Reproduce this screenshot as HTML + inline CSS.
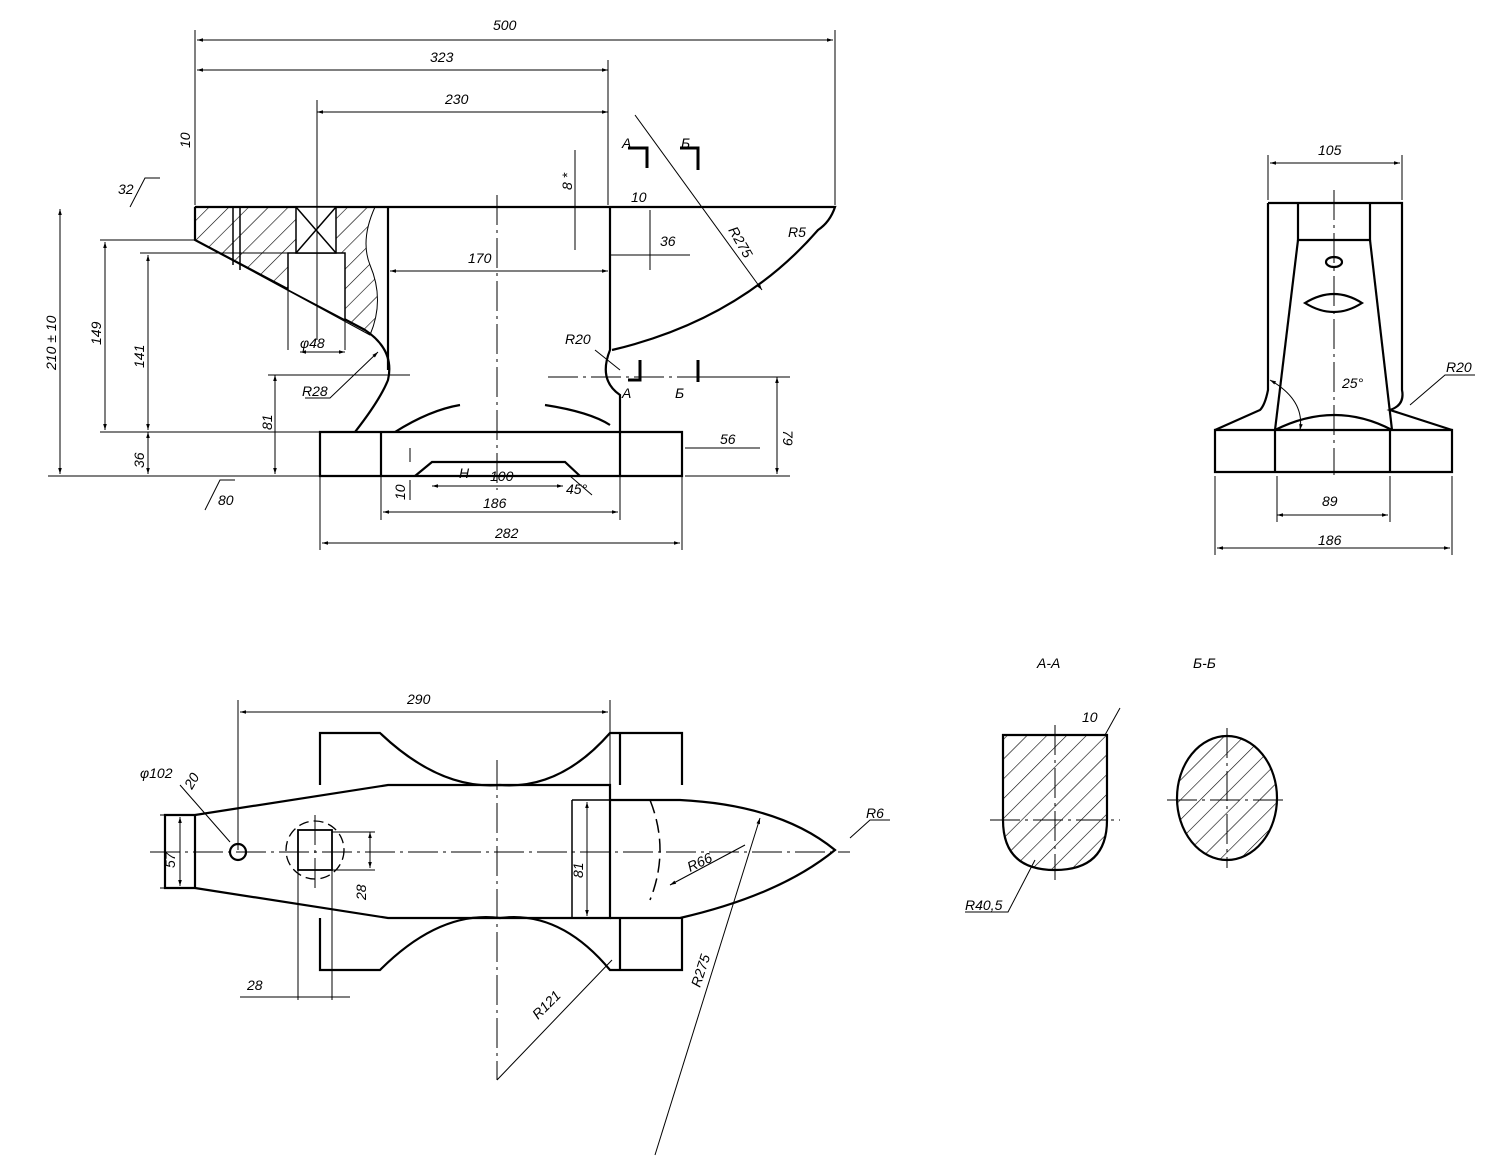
<!DOCTYPE html>
<html><head><meta charset="utf-8"><style>
html,body{margin:0;padding:0;background:#fff}
svg{display:block}
text{font-family:"Liberation Sans",sans-serif;font-style:italic;font-size:14px;fill:#000}
</style></head><body>
<svg width="1500" height="1163" viewBox="0 0 1500 1163" xmlns="http://www.w3.org/2000/svg">
<defs>
<pattern id="h" width="14" height="14" patternUnits="userSpaceOnUse" patternTransform="rotate(45)">
<line x1="0" y1="0" x2="0" y2="14" stroke="#000" stroke-width="1.2"/></pattern>
<marker id="a" viewBox="0 0 10 10" refX="10" refY="5" markerWidth="10" markerHeight="6" orient="auto-start-reverse"><path d="M0,2 L10,5 L0,8 z" fill="#000"/></marker>
</defs>
<g fill="none" stroke="#000" stroke-width="2.2">
<path d="M195,207 L835,207 Q830,222 818,230 Q740,320 612,350"/>
<path d="M195,207 L195,240 L365,330 Q395,350 388,380 Q380,400 355,432"/>
<line x1="388" y1="207" x2="388" y2="370"/>
<path d="M610,207 L610,350 Q598,380 620,395 L620,432"/>
<path d="M320,432 L682,432 L682,476 L320,476 Z"/>
<line x1="381" y1="432" x2="381" y2="476"/><line x1="620" y1="432" x2="620" y2="476"/>
<path d="M415,476 L432,462 L565,462 L580,476"/>
<path d="M395,432 Q430,410 460,405"/><path d="M545,405 Q590,412 610,425"/>
<path d="M195,207 L375,207 Q360,240 370,265 Q385,300 370,335 L195,240 Z" fill="url(#h)" stroke-width="1"/>
<path d="M288,253 L345,253 L345,320 L288,290 Z" fill="#fff" stroke-width="1.5"/>
<line x1="233" y1="207" x2="233" y2="265" stroke-width="1.5"/><line x1="240" y1="207" x2="240" y2="270" stroke-width="1.5"/>
<rect x="296" y="207" width="40" height="46" fill="#fff" stroke-width="1.5"/>
<line x1="296" y1="207" x2="336" y2="253" stroke-width="1.5"/><line x1="336" y1="207" x2="296" y2="253" stroke-width="1.5"/>
<path d="M1215,430 L1452,430 L1452,472 L1215,472 Z"/>
<path d="M1268,203 L1402,203 L1402,390 Q1405,405 1390,410 L1452,430"/>
<path d="M1268,203 L1268,390 Q1265,405 1260,410 L1215,430"/>
<path d="M1298,203 L1298,240 L1370,240 L1370,203"/>
<line x1="1298" y1="240" x2="1275" y2="430"/><line x1="1370" y1="240" x2="1392" y2="430"/>
<line x1="1275" y1="430" x2="1275" y2="472"/><line x1="1390" y1="430" x2="1390" y2="472"/>
<path d="M1275,430 Q1335,400 1392,430"/>
<ellipse cx="1334" cy="262" rx="8" ry="5"/>
<path d="M1305,303 Q1334,285 1362,303 Q1334,321 1305,303 Z"/>
<path d="M165,815 L195,815 L388,785 L610,785 L610,918 L388,918 L195,888 L165,888 Z"/>
<line x1="195" y1="815" x2="195" y2="888"/>
<path d="M320,785 L320,733 L380,733 Q440,790 500,785 Q560,790 610,733 L682,733 L682,785"/>
<path d="M320,918 L320,970 L380,970 Q440,910 500,918 Q560,910 610,970 L620,970 L682,970 L682,918"/>
<path d="M620,733 L620,785 M620,918 L620,970"/>
<path d="M610,800 L680,800 Q780,805 835,850 Q780,895 680,918 L610,918"/>
<path d="M650,800 Q670,850 650,900" stroke-dasharray="14,6" stroke-width="1.5"/>
<path d="M572,800 L610,800 M572,918 L610,918 M572,800 L572,918" stroke-width="1.5"/>
<circle cx="238" cy="852" r="8"/>
<rect x="298" y="830" width="34" height="40" stroke-width="1.8"/>
<circle cx="315" cy="850" r="29" stroke-dasharray="10,5" stroke-width="1.3"/>
<path d="M1003,735 L1107,735 L1107,820 Q1107,870 1055,870 Q1003,870 1003,820 Z" fill="url(#h)"/>
<ellipse cx="1227" cy="798" rx="50" ry="62" fill="url(#h)"/>
</g>
<g fill="none" stroke="#000" stroke-width="1">
<g stroke-dasharray="30,5,3,5">
<line x1="497" y1="195" x2="497" y2="490"/><line x1="548" y1="377" x2="790" y2="377"/>
<line x1="1334" y1="190" x2="1334" y2="475"/>
<line x1="150" y1="852" x2="850" y2="852"/><line x1="497" y1="760" x2="497" y2="1080"/>
<line x1="1055" y1="725" x2="1055" y2="880"/><line x1="990" y1="820" x2="1120" y2="820"/>
<line x1="1227" y1="728" x2="1227" y2="868"/><line x1="1167" y1="800" x2="1287" y2="800"/>
<line x1="315" y1="815" x2="315" y2="890"/>
</g>
<g marker-start="url(#a)" marker-end="url(#a)">
<line x1="197" y1="40" x2="833" y2="40"/><line x1="197" y1="70" x2="608" y2="70"/>
<line x1="317" y1="112" x2="608" y2="112"/><line x1="390" y1="271" x2="608" y2="271"/>
<line x1="60" y1="209" x2="60" y2="474"/><line x1="105" y1="242" x2="105" y2="430"/>
<line x1="148" y1="255" x2="148" y2="430"/><line x1="148" y1="432" x2="148" y2="474"/>
<line x1="275" y1="375" x2="275" y2="474"/><line x1="777" y1="377" x2="777" y2="474"/>
<line x1="383" y1="512" x2="618" y2="512"/><line x1="322" y1="543" x2="680" y2="543"/>
<line x1="432" y1="486" x2="563" y2="486"/>
<line x1="1270" y1="163" x2="1400" y2="163"/><line x1="1277" y1="515" x2="1388" y2="515"/>
<line x1="1217" y1="548" x2="1450" y2="548"/>
<line x1="240" y1="712" x2="608" y2="712"/><line x1="180" y1="817" x2="180" y2="886"/>
<line x1="370" y1="832" x2="370" y2="868"/><line x1="587" y1="802" x2="587" y2="916"/>
</g>
<line x1="48" y1="476" x2="320" y2="476"/><line x1="100" y1="240" x2="195" y2="240"/>
<line x1="140" y1="253" x2="290" y2="253"/><line x1="100" y1="432" x2="320" y2="432"/>
<line x1="268" y1="375" x2="410" y2="375"/>
<path d="M195,30 L195,205 M835,30 L835,205 M608,60 L608,205 M317,100 L317,340 M288,253 L288,350 M345,320 L345,350"/>
<line x1="300" y1="352" x2="345" y2="352" marker-start="url(#a)" marker-end="url(#a)"/>
<path d="M381,476 L381,520 M620,476 L620,520 M320,476 L320,550 M682,476 L682,550 M685,377 L790,377 M685,476 L790,476"/>
<path d="M610,255 L690,255 M650,210 L650,270 M575,207 L575,250 M575,150 L575,207"/>
<path d="M1268,155 L1268,200 M1402,155 L1402,200 M1215,476 L1215,555 M1452,476 L1452,555 M1277,476 L1277,522 M1390,476 L1390,522"/>
<path d="M238,700 L238,850 M610,700 L610,785 M160,815 L195,815 M160,888 L195,888 M332,832 L375,832 M332,870 L375,870 M572,800 L572,918"/>
<path d="M298,870 L298,1000 M332,870 L332,1000 M240,997 L350,997"/>
<path d="M130,207 L145,178 L160,178"/>
<line x1="635" y1="115" x2="762" y2="290" marker-end="url(#a)"/>
<path d="M497,1080 L612,960"/><path d="M655,1155 L760,818" marker-end="url(#a)"/>
<path d="M670,885 L745,845" marker-start="url(#a)"/>
<path d="M850,838 L870,820 L890,820" /><path d="M595,350 L620,370"/>
<path d="M305,398 L330,398 L378,352" marker-end="url(#a)"/>
<path d="M1105,735 L1120,708"/><path d="M965,912 L1008,912 L1035,860"/>
<path d="M180,785 L230,842" /><path d="M1410,405 L1445,375 L1475,375"/>
<path d="M1270,380 Q1305,400 1300,430" marker-start="url(#a)" marker-end="url(#a)"/>
<path d="M205,510 L220,480 L235,480 M685,448 L760,448 M570,476 L592,495"/>
<path d="M410,462 L410,448 M410,480 L410,500"/>
</g>
<g stroke="#000" stroke-width="3" fill="none">
<path d="M628,148 L647,148 L647,168"/><path d="M680,148 L698,148 L698,170"/>
<path d="M628,380 L640,380 L640,360"/><path d="M698,360 L698,382"/>
</g>
<g>
<text x="493" y="30">500</text><text x="430" y="62">323</text><text x="445" y="104">230</text>
<text x="468" y="263">170</text><text x="118" y="194">32</text><text x="631" y="202" font-size="12">10</text>
<text x="660" y="246" font-size="11">36</text><text x="788" y="237">R5</text>
<text x="565" y="344">R20</text><text x="302" y="396">R28</text><text x="300" y="348">φ48</text>
<text x="459" y="478">H</text><text x="490" y="481">100</text><text x="566" y="494" font-size="11">45°</text>
<text x="483" y="508">186</text><text x="495" y="538">282</text><text x="720" y="444">56</text>
<text x="218" y="505">80</text><text x="622" y="148">А</text><text x="681" y="148">Б</text>
<text x="622" y="398">А</text><text x="675" y="398">Б</text>
<text x="1318" y="155">105</text><text x="1322" y="506">89</text><text x="1318" y="545">186</text>
<text x="1342" y="388">25°</text><text x="1446" y="372">R20</text>
<text x="407" y="704">290</text><text x="140" y="778">φ102</text><text x="247" y="990">28</text>
<text x="866" y="818">R6</text><text x="1037" y="668" font-size="16">А-А</text><text x="1193" y="668" font-size="16">Б-Б</text>
<text x="1082" y="722" font-size="12">10</text><text x="965" y="910">R40,5</text>
<g font-size="14">
<text transform="translate(56,370) rotate(-90)">210 ± 10</text>
<text transform="translate(101,345) rotate(-90)">149</text>
<text transform="translate(144,368) rotate(-90)">141</text>
<text transform="translate(144,468) rotate(-90)">36</text>
<text transform="translate(272,430) rotate(-90)">81</text>
<text transform="translate(783,430) rotate(90)">79</text>
<text transform="translate(405,500) rotate(-90)">10</text>
<text transform="translate(190,148) rotate(-90)">10</text>
<text transform="translate(572,190) rotate(-90)">8 *</text>
<text transform="translate(175,868) rotate(-90)">57</text>
<text transform="translate(366,900) rotate(-90)">28</text>
<text transform="translate(583,878) rotate(-90)">81</text>
<text transform="translate(192,790) rotate(-60)">20</text>
<text transform="translate(728,230) rotate(60)">R275</text>
<text transform="translate(538,1020) rotate(-45)">R121</text>
<text transform="translate(700,988) rotate(-72)">R275</text>
<text transform="translate(690,872) rotate(-25)">R66</text>
</g>
</g>
</svg>
</body></html>
